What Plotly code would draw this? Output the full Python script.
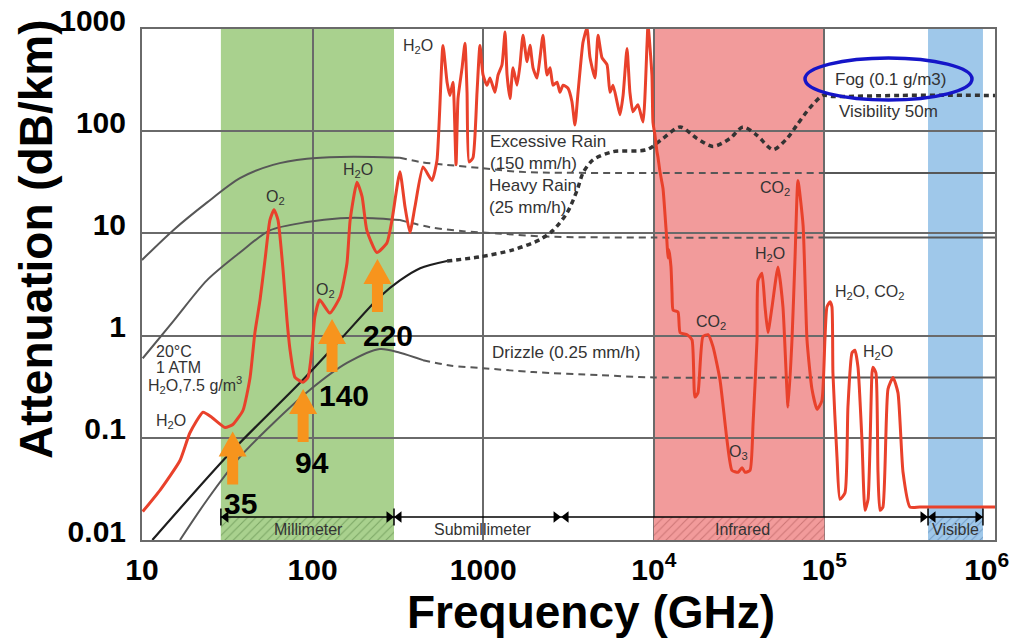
import plotly.graph_objects as go

# ---------------- data ----------------
# Atmospheric gases, 20°C, 1 atm, H2O 7.5 g/m3  (frequency GHz, attenuation dB/km)
atm_freq = [10.1, 12.8, 16.7, 19.1, 22.8, 25.7, 30.7, 34.1, 39.1, 43,
            45.9, 49.2, 52.6, 56.2, 59.4, 62.7, 67.1, 70.8, 73.8, 78.9,
            87.9, 94, 99, 103, 110, 126, 145, 159, 166, 182,
            195, 208, 238, 273, 292, 325, 348, 372, 398, 444,
            501, 536, 581, 614, 638, 665, 693, 712, 752, 782,
            804, 826, 871, 920, 957, 998, 1052, 1096, 1172, 1222,
            1289, 1343, 1380, 1436, 1496, 1578, 1644, 1711, 1807, 1881,
            1959, 2066, 2153, 2241, 2366, 2466, 2566, 2710, 2818, 2938,
            3141, 3311, 3451, 3597, 3690, 3846, 4055, 4227, 4519, 4710,
            4966, 5321, 5534, 5768, 6081, 6339, 6607, 6966, 7244, 7551,
            8072, 8648, 9120, 9247, 9750, 9886, 10160, 10440, 10590, 10870,
            11320, 11640, 11940, 12110, 12270, 12610, 12790, 12970, 13870, 14260,
            15670, 16750, 17420, 18150, 19410, 20800, 22230, 24430, 26850, 28710,
            31190, 32890, 34270, 36640, 38190, 40270, 40830, 43050, 44870, 46670,
            49320, 53460, 57150, 61230, 64570, 67300, 69980, 74990, 79070, 84530,
            90570, 96600, 100700, 103500, 107900, 110700, 112200, 118500, 123300, 132100,
            137400, 145200, 151000, 157400, 166000, 173000, 180300, 190100, 192800, 200500,
            206100, 211800, 220300, 235900, 252500, 270000, 289000, 317600, 363000, 1000000]
atm_att = [0.019, 0.031, 0.060, 0.112, 0.178, 0.158, 0.126, 0.135, 0.186, 0.39,
           1.07, 2.24, 5.5, 13.5, 17, 13.5, 4.4, 1.41, 0.72, 0.39,
           0.35, 0.39, 0.72, 1.51, 2.24, 1.66, 2.4, 5.1, 13.5, 31.6,
           22.9, 10.7, 6.5, 8.1, 13.5, 40, 18.2, 10.2, 18.2, 44.7,
           33, 52, 690, 302, 224, 302, 47, 209, 417, 724,
           240, 50, 55, 240, 690, 355, 282, 331, 240, 355,
           447, 933, 355, 209, 417, 282, 447, 871, 479, 692,
           417, 331, 525, 871, 355, 417, 282, 302, 240, 282,
           263, 195, 115, 240, 380, 741, 1023, 525, 331, 871,
           525, 447, 240, 282, 195, 145, 224, 646, 240, 155,
           182, 123, 692, 1100, 355, 123, 91, 63, 55, 40,
           27.5, 15.1, 8.3, 5.75, 6.9, 4.7, 2.63, 1.78, 1.70, 1.07,
           1.02, 0.91, 0.25, 0.275, 0.98, 1.02, 0.78, 0.37, 0.095, 0.048,
           0.046, 0.051, 0.046, 0.048, 0.138, 0.91, 3.47, 4.07, 1.91, 1.07,
           1.91, 4.68, 1.91, 0.20, 0.91, 5.9, 33, 12, 0.91, 0.30,
           0.19, 0.23, 0.91, 1.91, 2.14, 1.91, 0.43, 0.065, 0.025, 0.029,
           0.20, 0.68, 0.72, 0.49, 0.095, 0.0195, 0.025, 0.43, 0.49, 0.43,
           0.046, 0.0195, 0.021, 0.30, 0.39, 0.275, 0.046, 0.021, 0.021, 0.021]
assert len(atm_freq) == len(atm_att)

# Excessive rain (150 mm/h)
exc_freq = [10, 15.2, 24, 37.5, 58.6, 92.7, 145, 226, 325, 427, 614, 957, 1644, 1e4, 1e5, 1e6]
exc_att = [5.5, 10.7, 20, 34.7, 46.8, 53.7, 56, 56, 55, 50, 46.8, 43.7, 40, 39, 39, 39]
# Heavy rain (25 mm/h)
heavy_freq = [10.1, 15.4, 24, 37.5, 56.2, 92.7, 145, 226, 325, 488, 762, 1205, 2366, 1e4, 1e5, 1e6]
heavy_att = [0.60, 1.41, 3.47, 6.5, 10.7, 12.9, 14.1, 14.1, 13.5, 11.5, 10.5, 10, 9.3, 9.1, 9.1, 9.1]
# Drizzle (0.25 mm/h)
drz_freq = [16.7, 24, 37.5, 58.6, 96.6, 159, 248, 325, 444, 638, 998, 1959, 4842, 1e4, 1e5, 1e6]
drz_att = [0.01, 0.0245, 0.065, 0.138, 0.295, 0.54, 0.74, 0.68, 0.575, 0.51, 0.48, 0.44, 0.41, 0.39, 0.39, 0.39]
# Fog (0.1 g/m3), visibility 50 m
fog_freq = [11.5, 32.8, 84.3, 145, 248, 325, 427, 614, 957, 1496,
            2153, 2566, 3097, 3548, 3846, 4406, 5768, 9120, 11320, 14260,
            17910, 22230, 27990, 33340, 40270, 50000, 60400, 69020, 82400, 98200,
            112200, 277300, 1e6]
fog_att = [0.01, 0.071, 0.345, 0.91, 2.4, 3.47, 4.57, 5.37, 5.9, 6.9,
           8.7, 10.7, 15.8, 26.3, 39, 52.5, 63, 66, 85, 110,
           85, 71, 85, 110, 91, 66, 85, 115, 170, 224,
           219, 224, 224]

# highlighted windows
win_freq = [34, 88, 130, 240]
win_base = [0.035, 0.091, 0.44, 1.7]
win_labels = ["35", "94", "140", "220"]

# spectral regions (GHz)
mm_band = [29, 300]
submm_band = [300, 2860]
ir_band = [1e4, 1e5]
vis_band = [4.05e5, 8.5e5]

x_ticks = [10, 100, 1000, 1e4, 1e5, 1e6]
x_ticktext = ["10", "100", "1000", "10<sup>4</sup>", "10<sup>5</sup>", "10<sup>6</sup>\u00a0\u00a0"]
y_ticks = [0.01, 0.1, 1, 10, 100, 1000]
y_ticktext = ["0.01", "0.1", "1", "10", "100", "1000"]

# ---------------- layout helpers ----------------
L, R, T, B = 142, 21, 29, 100
W, H = 1016, 640
PW, PH = W - L - R, H - T - B


def pxx(p):
    return (p - L) / PW


def pxy(p):
    return (H - B - p) / PH


FONT = "Liberation Sans, Arial, sans-serif"
GRID = "#6a6a6a"
strip_top = 10 ** (-2 + 23 / (PH / 5))

fig = go.Figure()

# hatched region strip along the bottom
for band, bg, fg in [(mm_band, "#a9d18e", "#4f7d3c"),
                     (ir_band, "#f29b9b", "#a85050"),
                     (vis_band, "#9fc8ea", "#4f76a3")]:
    fig.add_trace(go.Scatter(
        x=[band[0], band[1], band[1], band[0], band[0]],
        y=[0.01, 0.01, strip_top, strip_top, 0.01],
        mode="lines", line=dict(width=0), fill="toself",
        fillcolor=bg,
        fillpattern=dict(shape="/", fgcolor=fg, bgcolor=bg, size=6, solidity=0.18),
        hoverinfo="skip", showlegend=False))


def split_curve(f, a, f_end_solid, f_start_solid2=None):
    s = [(x, y) for x, y in zip(f, a) if x <= f_end_solid]
    if f_start_solid2 is None:
        d = [(x, y) for x, y in zip(f, a) if x >= f_end_solid]
        s2 = []
    else:
        d = [(x, y) for x, y in zip(f, a) if f_end_solid <= x <= f_start_solid2]
        s2 = [(x, y) for x, y in zip(f, a) if x >= f_start_solid2]
    return s, d, s2


rain_col = "#575757"
for f, a, fend, f2 in [(exc_freq, exc_att, 325, 1e5),
                       (heavy_freq, heavy_att, 325, 1e5),
                       (drz_freq, drz_att, 444, 1e5)]:
    s, d, s2 = split_curve(f, a, fend, f2)
    fig.add_trace(go.Scatter(x=[p[0] for p in s], y=[p[1] for p in s], mode="lines",
                             line=dict(color=rain_col, width=2, shape="spline", smoothing=0.8),
                             hoverinfo="skip", showlegend=False))
    fig.add_trace(go.Scatter(x=[p[0] for p in d], y=[p[1] for p in d], mode="lines",
                             line=dict(color=rain_col, width=2, dash="7px,5px", shape="spline", smoothing=0.8),
                             hoverinfo="skip", showlegend=False))
    fig.add_trace(go.Scatter(x=[p[0] for p in s2], y=[p[1] for p in s2], mode="lines",
                             line=dict(color=rain_col, width=2),
                             hoverinfo="skip", showlegend=False))

s, d, _ = split_curve(fog_freq, fog_att, 614)
fig.add_trace(go.Scatter(x=[p[0] for p in s], y=[p[1] for p in s], mode="lines",
                         line=dict(color="#1e1e1e", width=2.2, shape="spline", smoothing=0.8),
                         hoverinfo="skip", showlegend=False))
fig.add_trace(go.Scatter(x=[p[0] for p in d], y=[p[1] for p in d], mode="lines",
                         line=dict(color="#333333", width=3.5, dash="5px,4px", shape="spline", smoothing=0.8),
                         hoverinfo="skip", showlegend=False))

# atmospheric absorption
fig.add_trace(go.Scatter(x=atm_freq, y=atm_att, mode="lines",
                         line=dict(color="#e9412b", width=3, shape="spline", smoothing=0.5),
                         hoverinfo="skip", showlegend=False))

# band arrow line
fig.add_trace(go.Scatter(x=[mm_band[0], vis_band[1]], y=[strip_top, strip_top], mode="lines",
                         line=dict(color="black", width=1.5), hoverinfo="skip", showlegend=False))
dpx = 10 ** (5 / 170.6)
mk_x, mk_sym = [], []
for b in [mm_band[0], submm_band[0], submm_band[1], vis_band[0]]:
    mk_x.append(b * dpx); mk_sym.append("triangle-left")
for b in [submm_band[0], submm_band[1], vis_band[0], vis_band[1]]:
    mk_x.append(b / dpx); mk_sym.append("triangle-right")
fig.add_trace(go.Scatter(x=mk_x, y=[strip_top] * len(mk_x), mode="markers",
                         marker=dict(symbol=mk_sym, size=10, color="black"),
                         hoverinfo="skip", showlegend=False))
tk = [mm_band[0], submm_band[0], vis_band[0], vis_band[1]]
fig.add_trace(go.Scatter(x=tk, y=[strip_top] * len(tk), mode="markers",
                         marker=dict(symbol="line-ns", size=12, line=dict(width=1.5, color="black")),
                         hoverinfo="skip", showlegend=False))

shapes = []
for band, col in [(mm_band, "#a9d18e"), (ir_band, "#f29b9b"), (vis_band, "#9fc8ea")]:
    shapes.append(dict(type="rect", xref="x", yref="paper", x0=band[0], x1=band[1], y0=0, y1=1,
                       fillcolor=col, line=dict(width=0), layer="below"))

arrow_path = "M -5.5 0 L 5.5 0 L 5.5 28 L 14 28 L 0 53 L -14 28 L -5.5 28 Z"
for f, b in zip(win_freq, win_base):
    shapes.append(dict(type="path", xref="x", yref="y", xsizemode="pixel", ysizemode="pixel",
                       xanchor=f, yanchor=b, path=arrow_path,
                       fillcolor="#f7941d", line=dict(width=0), layer="above"))

# fog ellipse
shapes.append(dict(type="circle", xref="paper", yref="paper",
                   x0=pxx(805), x1=pxx(972), y0=pxy(100), y1=pxy(58),
                   line=dict(color="#1515c8", width=3.5), layer="above"))

ann = []


def label(text, x, y, size=17, anchor="center", color="#333333", bold=False):
    ann.append(dict(text=text, x=pxx(x), y=pxy(y), xref="paper", yref="paper",
                    xanchor=anchor, yanchor="middle", showarrow=False,
                    font=dict(size=size, color=color, family=FONT, weight="bold" if bold else "normal")))


H2O = "H<sub>2</sub>O"
CO2 = "CO<sub>2</sub>"
label(H2O, 418, 46, 16)
label("Excessive Rain", 488, 141, 17, "left")
label("(150 mm/h)", 488, 163, 17, "left")
label("Heavy Rain", 487, 185, 17, "left")
label("(25 mm/h)", 487, 207, 17, "left")
label("Drizzle (0.25 mm/h)", 490, 352, 17, "left")
label("Fog (0.1 g/m3)", 833, 79, 17, "left")
label("Visibility 50m", 837, 111, 17, "left")
label(CO2, 775, 188, 16)
label(H2O, 770, 254, 16)
label(H2O + ", " + CO2, 833, 292, 16, "left")
label(CO2, 711, 322, 16)
label(H2O, 878, 352, 16)
label("O<sub>3</sub>", 738, 452, 16)
label("O<sub>2</sub>", 275, 197, 16)
label(H2O, 358, 170, 16)
label("O<sub>2</sub>", 325, 290, 16)
label("20°C", 174, 351, 16)
label("1 ATM", 178, 367, 16)
label(H2O + ",7.5 g/m<sup>3</sup>", 195, 385, 16)
label(H2O, 171, 421, 16)
label("Millimeter", 308, 529, 16)
label("Submillimeter", 483, 529, 16)
label("Infrared", 742, 529, 16)
label("Visible", 955, 529, 16)
for t, (x, y) in zip(win_labels, [(240, 503), (312, 462), (344, 395), (388, 335)]):
    label(t, x, y, 30, "center", "black", True)

# axis titles
ann.append(dict(text="Frequency (GHz)", x=pxx(591), y=pxy(612), xref="paper", yref="paper",
                xanchor="center", yanchor="middle", showarrow=False,
                font=dict(size=46, color="black", family=FONT, weight="bold")))
ann.append(dict(text="Attenuation (dB/km)", x=pxx(36), y=pxy(239), xref="paper", yref="paper",
                xanchor="center", yanchor="middle", showarrow=False, textangle=-90,
                font=dict(size=46, color="black", family=FONT, weight="bold")))

fig.update_layout(
    width=W, height=H,
    margin=dict(l=L, r=R, t=T, b=B, autoexpand=False),
    paper_bgcolor="white", plot_bgcolor="white",
    font=dict(family=FONT),
    shapes=shapes, annotations=ann, showlegend=False,
    xaxis=dict(type="log", range=[1, 6], tickvals=x_ticks, ticktext=x_ticktext,
               showgrid=True, gridcolor=GRID, gridwidth=2, zeroline=False, automargin=False,
               showline=True, mirror=True, linecolor=GRID, linewidth=2, ticks="",
               tickfont=dict(size=30, color="black", family=FONT, weight="bold"),
               ticklabelstandoff=2, ticklabeloverflow="allow"),
    yaxis=dict(type="log", range=[-2, 3], tickvals=y_ticks, ticktext=y_ticktext,
               showgrid=True, gridcolor=GRID, gridwidth=2, zeroline=False, automargin=False,
               showline=True, mirror=True, linecolor=GRID, linewidth=2, ticks="",
               tickfont=dict(size=30, color="black", family=FONT, weight="bold"),
               ticklabelstandoff=8, ticklabelshift=-9),
)

fig.write_html("out.html")
